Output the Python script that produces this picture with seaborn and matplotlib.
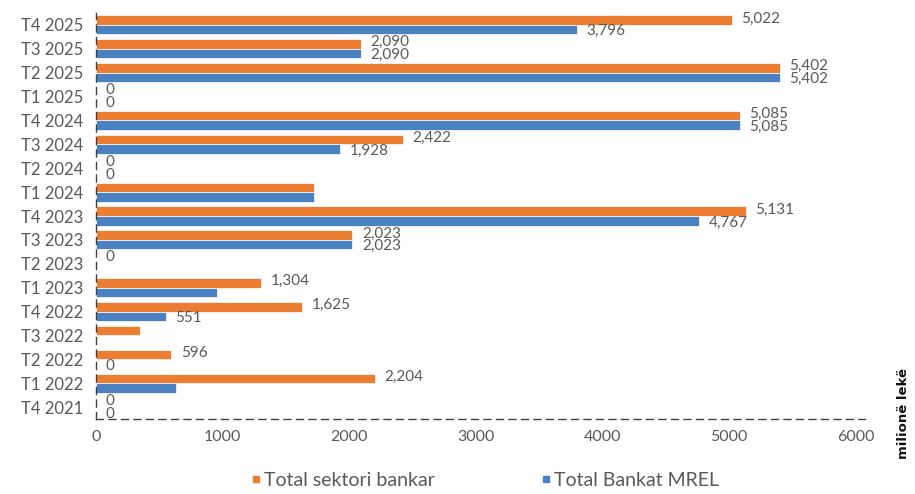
import matplotlib
matplotlib.use("Agg")
import matplotlib.pyplot as plt
from matplotlib.lines import Line2D
import seaborn as sns
import pandas as pd

# Quarters, listed top to bottom
quarters = ["T4 2025", "T3 2025", "T2 2025", "T1 2025", "T4 2024", "T3 2024",
            "T2 2024", "T1 2024", "T4 2023", "T3 2023", "T2 2023", "T1 2023",
            "T4 2022", "T3 2022", "T2 2022", "T1 2022", "T4 2021"]

# Values in millions of lek
sektori_bankar = [5022, 2090, 5402, 0, 5085, 2422, 0, 1725, 5131, 2023, 0,
                  1304, 1625, 344, 596, 2204, 0]
bankat_mrel = [3796, 2090, 5402, 0, 5085, 1928, 0, 1725, 4767, 2023, 0,
               958, 551, 0, 0, 632, 0]

# Quarters whose value label is not printed
no_label_sektori = ["T1 2024", "T3 2022"]
no_label_mrel = ["T1 2024", "T2 2023", "T1 2023", "T3 2022", "T1 2022"]

series_names = ["Total sektori bankar", "Total Bankat MREL"]
x_ticks = [0, 1000, 2000, 3000, 4000, 5000, 6000]

ORANGE = "#ED7D31"
BLUE = "#4A82C1"
GREY = "#595959"

df = pd.DataFrame({
    "quarter": quarters * 2,
    "value": sektori_bankar + bankat_mrel,
    "series": [series_names[0]] * len(quarters) + [series_names[1]] * len(quarters),
})

sns.set_theme(style="white")
plt.rcParams["font.family"] = ["Lato", "DejaVu Sans"]

fig = plt.figure(figsize=(9.15, 4.94), dpi=100)
ax = fig.add_axes([0.1049, 0.1518, 0.8405, 0.8219])

sns.barplot(data=df, y="quarter", x="value", hue="series", order=quarters,
            hue_order=series_names, palette=[ORANGE, BLUE], orient="h",
            width=0.8, saturation=1, errorbar=None, legend=False,
            edgecolor="white", linewidth=0.5, ax=ax)

# Value labels at the end of each bar, nudged apart vertically
fmt = lambda v: f"{v:,.0f}"
lab_o = ["" if q in no_label_sektori else fmt(v) for q, v in zip(quarters, sektori_bankar)]
lab_b = ["" if q in no_label_mrel else fmt(v) for q, v in zip(quarters, bankat_mrel)]
for cont, labs, dy in ((ax.containers[0], lab_o, 1.2), (ax.containers[1], lab_b, -1.2)):
    anns = ax.bar_label(cont, labels=labs, padding=7, fontsize=11, color=GREY)
    for a in anns:
        x0, y0 = a.xyann
        a.xyann = (x0, y0 + dy)

ax.set_xlim(0, 6075)
ax.set_xticks(x_ticks)
ax.set_xticklabels([str(t) for t in x_ticks])
ax.set_xlabel("")
ax.set_ylabel("")
ax.tick_params(axis="both", length=0, colors=GREY)
ax.tick_params(axis="y", labelsize=12, pad=9)
ax.tick_params(axis="x", labelsize=11.5, pad=8)

for side in ["top", "right"]:
    ax.spines[side].set_visible(False)
for side in ["left", "bottom"]:
    ax.spines[side].set_linestyle((0, (5, 4)))
    ax.spines[side].set_color("#404040")
    ax.spines[side].set_linewidth(1.0)

# Legend below the plot
handles = [Line2D([], [], marker="s", linestyle="none", markersize=5,
                  markerfacecolor=c, markeredgecolor=c) for c in (ORANGE, BLUE)]
fig.legend(handles, series_names, loc="center", bbox_to_anchor=(0.5306, 0.028),
           ncol=2, frameon=False, fontsize=14, labelcolor=GREY,
           handlelength=0.4, handletextpad=0.2, columnspacing=5.5)

fig.text(0.987, 0.162, "milionë lekë", rotation=90, ha="center", va="center",
         fontsize=9.5, fontweight="bold", color="#111111", family=["DejaVu Sans"])

fig.savefig("out.png", dpi=100)
